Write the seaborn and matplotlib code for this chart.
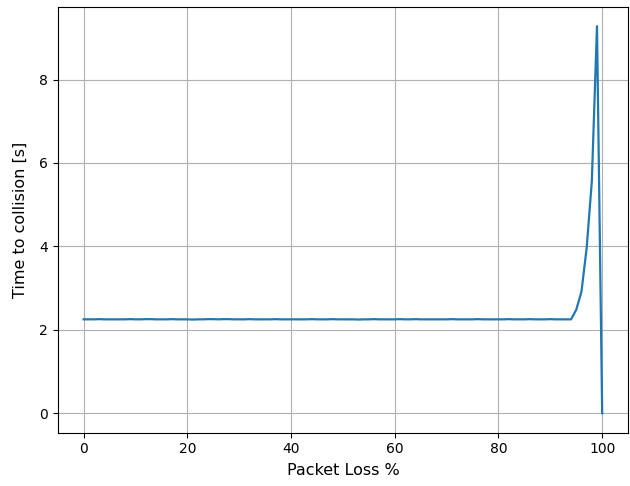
import matplotlib
matplotlib.use("Agg")
import matplotlib.pyplot as plt
import seaborn as sns
import numpy as np
import pandas as pd

packet_loss = list(range(0, 101))
flat = [2.25, 2.25, 2.25, 2.255, 2.25, 2.25, 2.25, 2.25, 2.25, 2.255,
        2.25, 2.25, 2.255, 2.255, 2.25, 2.25, 2.25, 2.255, 2.25, 2.25,
        2.25, 2.245, 2.25, 2.25, 2.255, 2.255, 2.25, 2.255, 2.255, 2.25,
        2.25, 2.25, 2.255, 2.25, 2.25, 2.25, 2.25, 2.255, 2.25, 2.25,
        2.25, 2.25, 2.25, 2.25, 2.255, 2.25, 2.25, 2.25, 2.255, 2.25,
        2.25, 2.25, 2.25, 2.245, 2.25, 2.25, 2.255, 2.25, 2.25, 2.25,
        2.25, 2.255, 2.25, 2.25, 2.255, 2.25, 2.25, 2.25, 2.25, 2.25,
        2.25, 2.255, 2.25, 2.25, 2.25, 2.25, 2.255, 2.25, 2.25, 2.25,
        2.25, 2.25, 2.255, 2.25, 2.25, 2.25, 2.255, 2.25, 2.25, 2.25,
        2.255, 2.25, 2.25, 2.25, 2.25]
spike = [2.48, 2.91, 3.95, 5.55, 9.28, 0.0]
time_to_collision = flat + spike

df = pd.DataFrame({"loss": packet_loss, "ttc": time_to_collision})

fig, ax = plt.subplots(figsize=(6.3, 4.86), dpi=100)
sns.lineplot(data=df, x="loss", y="ttc", ax=ax, color="#1f77b4", linewidth=1.6)
ax.grid(True)
ax.set_xlabel("Packet Loss %", fontsize=11.5, labelpad=5)
ax.set_ylabel("Time to collision [s]", fontsize=11.5, labelpad=8)
ax.set_xticks([0, 20, 40, 60, 80, 100])
ax.set_yticks([0, 2, 4, 6, 8])
ax.tick_params(labelsize=10)
fig.subplots_adjust(left=0.0915, right=0.997, top=0.986, bottom=0.11)
fig.savefig("out.png", dpi=100)
